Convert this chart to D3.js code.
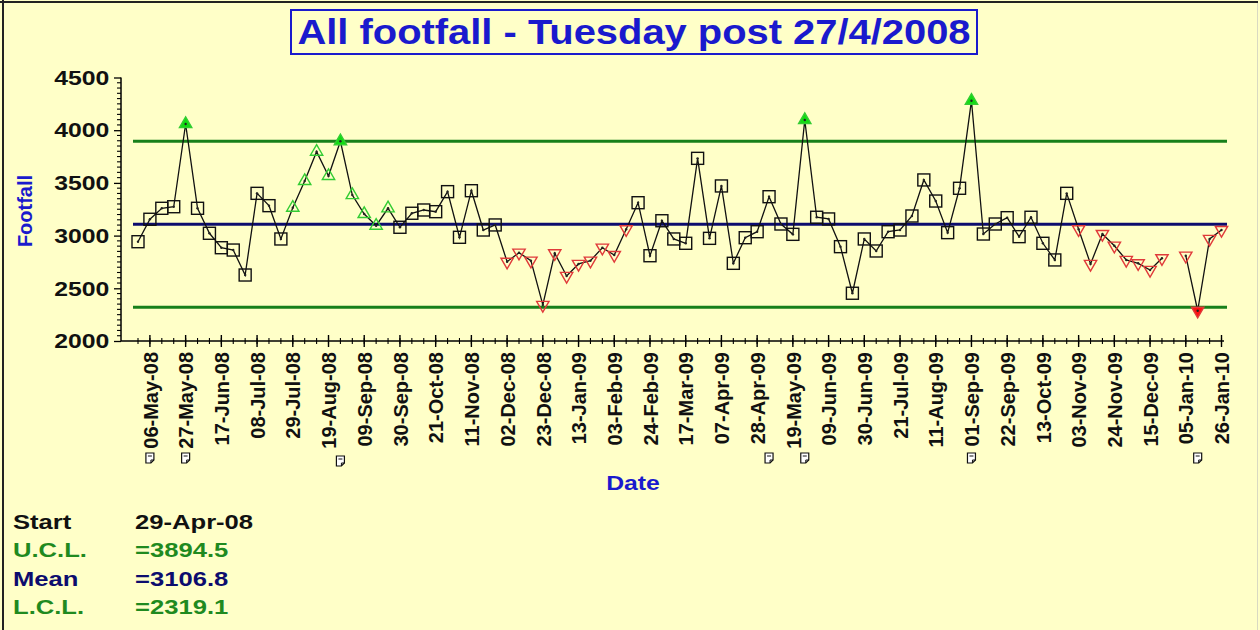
<!DOCTYPE html>
<html>
<head>
<meta charset="utf-8">
<script src="https://cdn.jsdelivr.net/npm/d3@7"></script>
<style>
  html, body { margin: 0; padding: 0; background: #FFFFC8; }
  svg { display: block; }
  text { font-family: Arial, "Liberation Sans", sans-serif; font-weight: bold; }
</style>
</head>
<body>
<svg id="chart" width="1260" height="630"></svg>
<script>
// ---------------- data ----------------
const titleText = "All footfall - Tuesday post 27/4/2008";
const startLabel = "29-Apr-08";
const ucl = 3894.5;
const mean = 3106.8;
const lcl = 2319.1;

// weekly Tuesday footfall, starting 29-Apr-08 (null = missing week)
const footfall = [
  2942, 3155, 3259, 3274, 4059, 3259, 3022, 2885, 2863, 2626,
  3401, 3284, 2968, 3265, 3518, 3796, 3566, 3895, 3385, 3205,
  3094, 3259, 3079, 3212, 3243, 3227, 3417, 2984, 3426, 3053,
  3101, 2752, 2838, 2762, 2342, 2832, 2617, 2731, 2762, 2885,
  2816, 3060, 3312, 2809, 3141, 2968, 2927, 3733, 2974, 3471,
  2737, 2980, 3037, 3369, 3110, 3012, 4097, 3174, 3158, 2895,
  2453, 2968, 2854, 3037, 3053, 3186, 3528, 3328, 3028, 3449,
  4280, 3015, 3110, 3170, 2990, 3174, 2927, 2769, 3401, 3060,
  2731, 3015, 2904, 2769, 2737, 2674, 2785, null, 2809, 2287,
  2968, 3053
];

// signal classification (week indices)
const outAboveIdx = [4, 17, 56, 70];                       // filled green triangles
const runAboveIdx = [13, 14, 15, 16, 18, 19, 20, 21];      // open green triangles
const runBelowIdx = [31, 32, 33, 34, 35, 36, 37, 38, 39, 40, 41,
                     79, 80, 81, 82, 83, 84, 85, 86, 88, 90, 91]; // open red triangles
const outBelowIdx = [89];                                   // filled red triangle
const noteIdx = [1, 4, 17, 53, 56, 70, 89];                 // note flags under the axis

const tickLabels = [
  "06-May-08","27-May-08","17-Jun-08","08-Jul-08","29-Jul-08","19-Aug-08",
  "09-Sep-08","30-Sep-08","21-Oct-08","11-Nov-08","02-Dec-08","23-Dec-08",
  "13-Jan-09","03-Feb-09","24-Feb-09","17-Mar-09","07-Apr-09","28-Apr-09",
  "19-May-09","09-Jun-09","30-Jun-09","21-Jul-09","11-Aug-09","01-Sep-09",
  "22-Sep-09","13-Oct-09","03-Nov-09","24-Nov-09","15-Dec-09","05-Jan-10",
  "26-Jan-10"
];
const yMajorTicks = [2000, 2500, 3000, 3500, 4000, 4500];

// ---------------- setup ----------------
const SX = 1.18; // horizontal text stretch of the original rendering
const BLUE = "#1a1acd";
const GREEN_LINE = "#17801a";
const GREEN_TXT = "#1f8a1f";
const NAVY = "#0c0c6e";

const parse = d3.timeParse("%d-%b-%y");
const fmt = d3.timeFormat("%d-%b-%y");
const start = parse(startLabel);
const data = footfall.map((v, i) => ({ i, date: d3.timeDay.offset(start, 7 * i), v }));
const tickDates = tickLabels.map(parse);

const svg = d3.select("#chart");

// background + frame
svg.append("rect").attr("width", 1260).attr("height", 630).attr("fill", "#FFFFC8");
svg.append("line").attr("x1", 0).attr("x2", 1258).attr("y1", 2).attr("y2", 2)
  .attr("stroke", "#222").attr("stroke-width", 2);
svg.append("line").attr("x1", 3).attr("x2", 3).attr("y1", 0).attr("y2", 630)
  .attr("stroke", "#222").attr("stroke-width", 2);
svg.append("line").attr("x1", 1257.5).attr("x2", 1257.5).attr("y1", 3).attr("y2", 630)
  .attr("stroke", "#d9d9c2").attr("stroke-width", 1);

const x = d3.scaleTime()
  .domain([data[0].date, data[data.length - 1].date])
  .range([138, 1221.5]);
const y = d3.scaleLinear().domain([2000, 4500]).range([341, 77.5]);

const axisX0 = 121;

// ---------------- title ----------------
const tg = svg.append("g");
tg.append("rect").attr("x", 291).attr("y", 10).attr("width", 686).attr("height", 44)
  .attr("fill", "none").attr("stroke", BLUE).attr("stroke-width", 2);
tg.append("text").attr("transform", `translate(634,44) scale(1.14,1)`)
  .attr("text-anchor", "middle").attr("font-size", 35).attr("fill", BLUE)
  .text(titleText);

// ---------------- control lines ----------------
const clines = [
  { v: ucl, c: GREEN_LINE },
  { v: mean, c: NAVY },
  { v: lcl, c: GREEN_LINE }
];
svg.append("g").selectAll("line").data(clines).join("line")
  .attr("x1", 133).attr("x2", 1227)
  .attr("y1", d => y(d.v)).attr("y2", d => y(d.v))
  .attr("stroke", d => d.c).attr("stroke-width", 3);

// ---------------- axes ----------------
const yAxis = svg.append("g").attr("transform", `translate(${axisX0},0)`)
  .call(d3.axisLeft(y).tickValues(yMajorTicks).tickSize(7).tickPadding(3).tickFormat(d3.format("d")));
yAxis.select(".domain").attr("stroke", "#000").attr("stroke-width", 1.5)
  .attr("d", `M0,${y(4500)}V${y(2000)}`);
yAxis.selectAll(".tick line").attr("stroke", "#000").attr("stroke-width", 1.3);
yAxis.selectAll(".tick text").attr("font-size", 21).attr("fill", "#111")
  .attr("font-family", "Arial, 'Liberation Sans', sans-serif").attr("font-weight", "bold")
  .attr("transform", `scale(${SX},1)`);
const yMinor = d3.range(2000, 4501, 50).filter(v => v % 500 !== 0);
svg.append("g").selectAll("line").data(yMinor).join("line")
  .attr("x1", axisX0 - 4).attr("x2", axisX0)
  .attr("y1", d => y(d)).attr("y2", d => y(d))
  .attr("stroke", "#000").attr("stroke-width", 1.1);

const xAxisY = 341;
const xAxis = svg.append("g").attr("transform", `translate(0,${xAxisY})`)
  .call(d3.axisBottom(x).tickValues(tickDates).tickSize(0).tickPadding(0).tickFormat(fmt));
xAxis.select(".domain").attr("stroke", "#000").attr("stroke-width", 1.5)
  .attr("d", `M${axisX0},0H1224`);
xAxis.selectAll(".tick line").remove();
xAxis.selectAll(".tick text")
  .attr("font-size", 20).attr("fill", "#111")
  .attr("font-family", "Arial, 'Liberation Sans', sans-serif").attr("font-weight", "bold")
  .attr("text-anchor", "end")
  .attr("transform", "rotate(-90)")
  .attr("x", -11).attr("y", 0).attr("dy", "0.36em");
svg.append("g").selectAll("line").data(data).join("line")
  .attr("x1", d => x(d.date)).attr("x2", d => x(d.date))
  .attr("y1", xAxisY - 3).attr("y2", xAxisY + 3)
  .attr("stroke", "#000").attr("stroke-width", 1.1);
svg.append("g").selectAll("line").data(tickDates).join("line")
  .attr("x1", d => x(d)).attr("x2", d => x(d))
  .attr("y1", xAxisY - 6).attr("y2", xAxisY + 6)
  .attr("stroke", "#000").attr("stroke-width", 1.4);

// note flags under the date labels
const notes = svg.append("g").selectAll("g").data(noteIdx).join("g")
  .attr("transform", d => `translate(${x(data[d].date)},${d === 17 ? 461 : 458})`);
notes.append("path")
  .attr("d", "M-4,-5H4V2L1,5H-4Z")
  .attr("fill", "#fff").attr("stroke", "#111").attr("stroke-width", 1.2);
notes.append("path")
  .attr("d", "M-2,-2H2M4,2H1V5")
  .attr("fill", "none").attr("stroke", "#111").attr("stroke-width", 1);

// axis titles
svg.append("text").attr("transform", "translate(32,211) rotate(-90)")
  .attr("text-anchor", "middle").attr("font-size", 20).attr("fill", BLUE).text("Footfall");
svg.append("text").attr("transform", `translate(633,490) scale(${SX},1)`)
  .attr("text-anchor", "middle").attr("font-size", 21).attr("fill", BLUE).text("Date");

// ---------------- data line ----------------
const line = d3.line().defined(d => d.v != null).x(d => x(d.date)).y(d => y(d.v));
svg.append("path").datum(data).attr("d", line)
  .attr("fill", "none").attr("stroke", "#111").attr("stroke-width", 1.3);

// ---------------- markers ----------------
const kind = i => outAboveIdx.includes(i) ? "oa" : runAboveIdx.includes(i) ? "ra"
  : outBelowIdx.includes(i) ? "ob" : runBelowIdx.includes(i) ? "rb" : "n";
const pts = data.filter(d => d.v != null);
const mk = svg.append("g").selectAll("g").data(pts).join("g")
  .attr("transform", d => `translate(${x(d.date)},${y(d.v)})`);
mk.each(function (d) {
  const g = d3.select(this);
  const k = kind(d.i);
  if (k === "n") {
    g.append("rect").attr("x", -6).attr("y", -6).attr("width", 12).attr("height", 12)
      .attr("fill", "none").attr("stroke", "#111").attr("stroke-width", 1.4);
  } else if (k === "oa" || k === "ra") {
    g.append("path").attr("d", d3.symbol(d3.symbolTriangle, 66)())
      .attr("fill", k === "oa" ? "#11dd11" : "none")
      .attr("stroke", "#33cc33").attr("stroke-width", 1.4);
  } else {
    g.append("path").attr("d", d3.symbol(d3.symbolTriangle, 66)())
      .attr("transform", "rotate(180)")
      .attr("fill", k === "ob" ? "#ff1111" : "none")
      .attr("stroke", "#e03a3a").attr("stroke-width", 1.4);
  }
  g.append("circle").attr("r", 1.2).attr("fill", "#222");
});

// ---------------- summary text ----------------
const stats = [
  { label: "Start", value: startLabel, c: "#111" },
  { label: "U.C.L.", value: "=" + ucl.toFixed(1), c: GREEN_TXT },
  { label: "Mean", value: "=" + mean.toFixed(1), c: NAVY },
  { label: "L.C.L.", value: "=" + lcl.toFixed(1), c: GREEN_TXT }
];
const sg = svg.append("g").selectAll("g").data(stats).join("g")
  .attr("transform", (d, i) => `translate(0,${529 + i * 28.3})`);
sg.append("text").attr("transform", `translate(13,0) scale(1.22,1)`)
  .attr("font-size", 21).attr("fill", d => d.c).text(d => d.label);
sg.append("text").attr("transform", `translate(135,0) scale(1.22,1)`)
  .attr("font-size", 21).attr("fill", d => d.c).text(d => d.value);
</script>
</body>
</html>
